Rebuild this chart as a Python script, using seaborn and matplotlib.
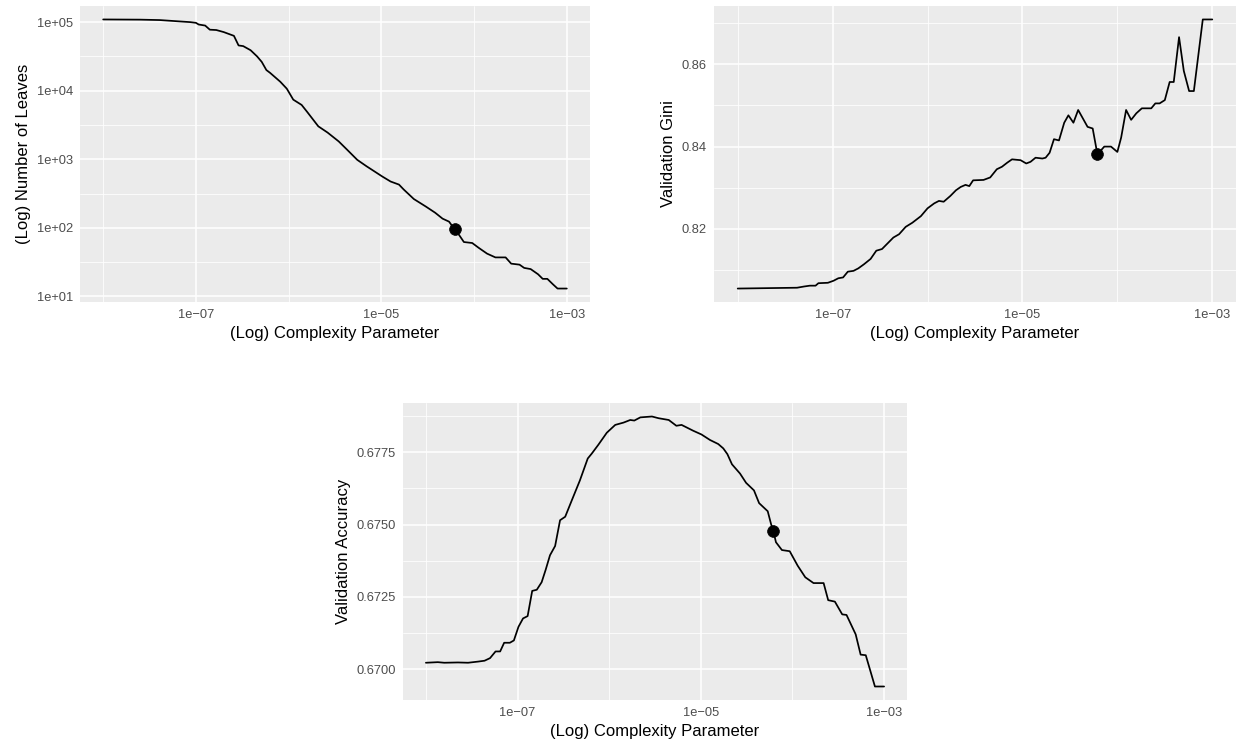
import numpy as np
import pandas as pd
import matplotlib
matplotlib.use("Agg")
import matplotlib.pyplot as plt
from matplotlib.ticker import FixedLocator, FixedFormatter, NullFormatter
import seaborn as sns

# Complexity-parameter sweep results (cp given as log10 exponents)
leaves_exp = [-8.00, -7.60, -7.39, -7.17, -7.06, -7.00, -6.97, -6.90, -6.85, -6.78,
              -6.70, -6.59, -6.54, -6.49, -6.41, -6.34, -6.29, -6.24, -6.20, -6.09,
              -6.02, -5.95, -5.86, -5.80, -5.68, -5.58, -5.46, -5.37, -5.26, -5.16,
              -5.10, -4.99, -4.90, -4.81, -4.76, -4.65, -4.52, -4.42, -4.34, -4.27,
              -4.21, -4.16, -4.11, -4.02, -3.95, -3.86, -3.77, -3.66, -3.60, -3.51,
              -3.46, -3.39, -3.31, -3.26, -3.21, -3.15, -3.10, -3.00]
leaves = [109400, 108700, 107200, 102300, 100000, 97700, 92300, 89100, 77600, 76700,
          71600, 63100, 45700, 44700, 38900, 31600, 26300, 20000, 18200, 13500,
          10700, 7400, 6200, 4900, 3020, 2450, 1820, 1380, 980, 790,
          700, 560, 473, 427, 363, 263, 204, 166, 136, 123,
          95, 78, 62, 60, 51, 42, 37, 37, 30, 29,
          26, 25, 21, 18, 18, 15, 13, 13]

gini_exp = [-8.00, -7.375, -7.30, -7.24, -7.18, -7.15, -7.05, -6.99, -6.94, -6.89,
            -6.84, -6.78, -6.73, -6.67, -6.60, -6.54, -6.48, -6.36, -6.30, -6.23,
            -6.16, -6.07, -6.00, -5.93, -5.88, -5.83, -5.76, -5.70, -5.65, -5.60,
            -5.56, -5.52, -5.41, -5.34, -5.27, -5.216, -5.16, -5.11, -5.02, -4.96,
            -4.915, -4.862, -4.79, -4.756, -4.714, -4.668, -4.615, -4.56, -4.516, -4.463,
            -4.413, -4.314, -4.26, -4.21, -4.138, -4.067, -4.00, -3.96, -3.908, -3.855,
            -3.80, -3.742, -3.643, -3.60, -3.555, -3.50, -3.449, -3.406, -3.35, -3.30,
            -3.244, -3.194, -3.10, -3.00]
gini = [0.8055, 0.8057, 0.8060, 0.8062, 0.8062, 0.8068, 0.8069, 0.8074, 0.8080, 0.8082,
        0.8096, 0.8098, 0.8104, 0.8114, 0.8127, 0.8147, 0.8151, 0.8179, 0.8187, 0.8205,
        0.8215, 0.8231, 0.8250, 0.8262, 0.8268, 0.8266, 0.8280, 0.8294, 0.8302, 0.8307,
        0.8304, 0.8318, 0.8319, 0.8325, 0.8345, 0.8351, 0.8361, 0.8369, 0.8367, 0.8359,
        0.8363, 0.8373, 0.8371, 0.8373, 0.8385, 0.8418, 0.8415, 0.8458, 0.8476, 0.8458,
        0.8489, 0.8448, 0.8444, 0.8381, 0.8400, 0.8400, 0.8387, 0.8422, 0.8489, 0.8465,
        0.8481, 0.8493, 0.8493, 0.8505, 0.8505, 0.8513, 0.8557, 0.8557, 0.8666, 0.8584,
        0.8535, 0.8535, 0.8709, 0.8709]

acc_exp = [-8.00, -7.87, -7.80, -7.65, -7.54, -7.43, -7.36, -7.30, -7.24, -7.19,
           -7.146, -7.084, -7.04, -6.99, -6.94, -6.89, -6.84, -6.79, -6.737, -6.693,
           -6.646, -6.59, -6.536, -6.48, -6.41, -6.32, -6.234, -6.19, -6.117, -6.026,
           -5.934, -5.843, -5.77, -5.726, -5.66, -5.533, -5.46, -5.35, -5.30, -5.267,
           -5.21, -5.084, -4.993, -4.90, -4.81, -4.755, -4.71, -4.66, -4.572, -4.506,
           -4.42, -4.364, -4.27, -4.232, -4.21, -4.18, -4.115, -4.03, -3.943, -3.86,
           -3.77, -3.66, -3.61, -3.537, -3.457, -3.41, -3.31, -3.256, -3.20, -3.10,
           -3.00]
acc = [0.67023, 0.67025, 0.67023, 0.67024, 0.67023, 0.67027, 0.67030, 0.67039, 0.67062, 0.67062,
       0.67092, 0.67092, 0.67100, 0.67147, 0.67176, 0.67184, 0.67271, 0.67275, 0.67301, 0.67344,
       0.67394, 0.67426, 0.67515, 0.67527, 0.67582, 0.67652, 0.67728, 0.67745, 0.67776, 0.67817,
       0.67844, 0.67852, 0.67861, 0.67859, 0.67870, 0.67873, 0.67867, 0.67861, 0.67849, 0.67841,
       0.67844, 0.67824, 0.67811, 0.67792, 0.67778, 0.67763, 0.67743, 0.67708, 0.67676, 0.67644,
       0.67618, 0.67574, 0.67546, 0.67500, 0.67479, 0.67439, 0.67412, 0.67408, 0.67358, 0.67318,
       0.67298, 0.67298, 0.67239, 0.67234, 0.67190, 0.67188, 0.67121, 0.67051, 0.67049, 0.66941,
       0.66941]

# chosen complexity parameter
best_exp = -4.21

x_major_exp = [-7, -5, -3]
x_minor_exp = [-8, -6, -4]
x_labels = ["1e\u221207", "1e\u221205", "1e\u221203"]

leaves_major = [1e1, 1e2, 1e3, 1e4, 1e5]
leaves_labels = ["1e+01", "1e+02", "1e+03", "1e+04", "1e+05"]
gini_major = [0.82, 0.84, 0.86]
gini_labels = ["0.82", "0.84", "0.86"]
acc_major = [0.6700, 0.6725, 0.6750, 0.6775]
acc_labels = ["0.6700", "0.6725", "0.6750", "0.6775"]

sns.set_theme(style="darkgrid")
plt.rcParams["font.family"] = ["Liberation Sans", "DejaVu Sans"]

PANEL = "#EBEBEB"
W, H = 1241, 744
fig = plt.figure(figsize=(W / 100, H / 100), dpi=100)
fig.patch.set_facecolor("white")


def make_axes(left, right, top, bottom):
    return fig.add_axes([left / W, 1 - bottom / H, (right - left) / W, (bottom - top) / H])


def expand(lo, hi, frac=0.05):
    d = (hi - lo) * frac
    return lo - d, hi + d


def style_axes(ax, ylog, ymajor, ylabels, yminor, xlabel, ylabel):
    ax.set_facecolor(PANEL)
    for s in ax.spines.values():
        s.set_visible(False)
    ax.set_xscale("log")
    if ylog:
        ax.set_yscale("log")
    ax.xaxis.set_major_locator(FixedLocator([10.0 ** e for e in x_major_exp]))
    ax.xaxis.set_major_formatter(FixedFormatter(x_labels))
    ax.xaxis.set_minor_locator(FixedLocator([10.0 ** e for e in x_minor_exp]))
    ax.xaxis.set_minor_formatter(NullFormatter())
    ax.yaxis.set_major_locator(FixedLocator(ymajor))
    ax.yaxis.set_major_formatter(FixedFormatter(ylabels))
    ax.yaxis.set_minor_locator(FixedLocator(yminor))
    ax.yaxis.set_minor_formatter(NullFormatter())
    ax.grid(True, which="major", color="white", linewidth=1.1)
    ax.grid(True, which="minor", color="white", linewidth=0.55)
    ax.set_axisbelow(True)
    ax.tick_params(which="major", length=3.0, width=0.8, color="#333333",
                   labelcolor="#4D4D4D", labelsize=9.3, pad=2.2)
    ax.tick_params(which="minor", length=0)
    ax.set_xlabel(xlabel, fontsize=12, color="black", labelpad=3.5)
    ax.set_ylabel(ylabel, fontsize=12, color="black", labelpad=4)


def draw(ax, exps, vals, col):
    df = pd.DataFrame({"cp": 10.0 ** np.array(exps), col: vals})
    sns.lineplot(data=df, x="cp", y=col, ax=ax, color="black", linewidth=1.25,
                 estimator=None, sort=False)
    best = df[np.isclose(np.array(exps), best_exp)]
    sns.scatterplot(data=best, x="cp", y=col, ax=ax, color="black", s=72,
                    edgecolor="black", linewidth=0.5, zorder=5)
    ax.set_xlim(10 ** -8.25, 10 ** -2.75)


xlab = "(Log) Complexity Parameter"

# Number of leaves
ax1 = make_axes(80, 590, 6, 302)
ax1.set_xscale("log")
ax1.set_yscale("log")
draw(ax1, leaves_exp, leaves, "leaves")
lo, hi = expand(np.log10(min(leaves)), np.log10(max(leaves)))
ax1.set_ylim(10 ** lo, 10 ** hi)
style_axes(ax1, True, leaves_major, leaves_labels,
           [10 ** 1.5, 10 ** 2.5, 10 ** 3.5, 10 ** 4.5],
           xlab, "(Log) Number of Leaves")

# Validation Gini
ax2 = make_axes(714, 1236, 6, 302)
ax2.set_xscale("log")
draw(ax2, gini_exp, gini, "gini")
ax2.set_ylim(*expand(min(gini), max(gini)))
style_axes(ax2, False, gini_major, gini_labels, [0.81, 0.83, 0.85, 0.87],
           xlab, "Validation Gini")

# Validation accuracy
ax3 = make_axes(403, 907, 403, 700)
ax3.set_xscale("log")
draw(ax3, acc_exp, acc, "acc")
ax3.set_ylim(*expand(min(acc), max(acc)))
style_axes(ax3, False, acc_major, acc_labels,
           [0.66875, 0.67125, 0.67375, 0.67625, 0.67875],
           xlab, "Validation Accuracy")

fig.savefig("out.png", dpi=100, facecolor="white")
